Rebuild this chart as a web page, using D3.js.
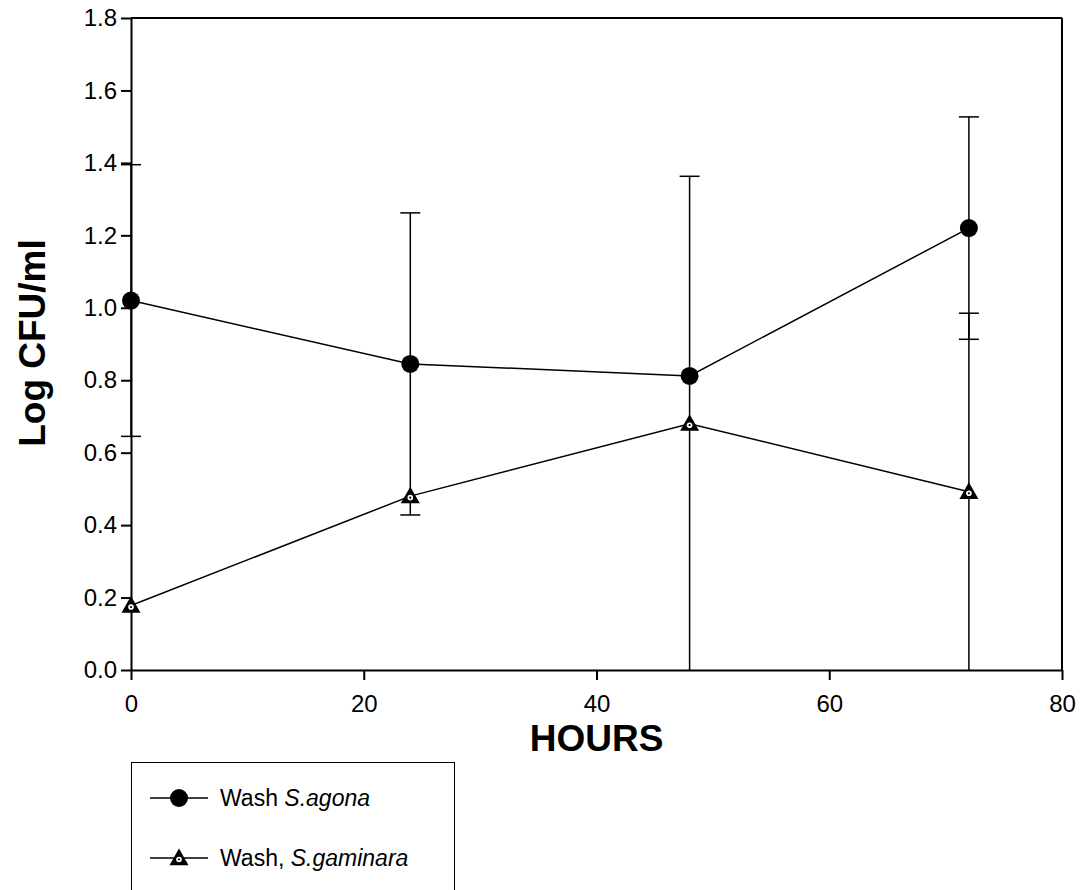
<!DOCTYPE html>
<html>
<head>
<meta charset="utf-8">
<script src="https://cdn.jsdelivr.net/npm/d3@7"></script>
<style>
html,body{margin:0;padding:0;background:#fff;}
svg{display:block;font-family:Arial,"Liberation Sans",sans-serif;}
</style>
</head>
<body>
<svg id="chart" width="1083" height="890"></svg>
<script>
const hours = [0, 24, 48, 72];
const agona = [1.02, 0.845, 0.812, 1.22];
const agonaErr = [0.375, 0.417, null, 0.307];
const gaminara = [0.178, 0.48, 0.68, 0.492];
const gaminaraErr = [null, null, 0.683, 0.493];
const xTicks = [0, 20, 40, 60, 80];
const yTicks = [0, 0.2, 0.4, 0.6, 0.8, 1.0, 1.2, 1.4, 1.6, 1.8];
const legendLabels = [["Wash ", "S.agona"], ["Wash, ", "S.gaminara"]];

const svg = d3.select("#chart");
const x = d3.scaleLinear().domain([0, 80]).range([131, 1062]);
const y = d3.scaleLinear().domain([0, 1.8]).range([670, 18]);

// frame top/right
svg.append("line").attr("x1", x(0)).attr("x2", x(80)).attr("y1", y(1.8)).attr("y2", y(1.8))
  .attr("stroke", "#000").attr("stroke-width", 2);
svg.append("line").attr("x1", x(80)).attr("x2", x(80)).attr("y1", y(1.8)).attr("y2", y(0))
  .attr("stroke", "#000").attr("stroke-width", 2);

const xAxis = svg.append("g").attr("transform", `translate(0,${y(0)})`)
  .call(d3.axisBottom(x).tickValues(xTicks).tickSize(10).tickPadding(15).tickSizeOuter(0).tickFormat(d3.format("d")));
const yAxis = svg.append("g").attr("transform", `translate(${x(0)},0)`)
  .call(d3.axisLeft(y).tickValues(yTicks).tickSize(10).tickPadding(4).tickSizeOuter(0).tickFormat(d3.format(".1f")));
[xAxis, yAxis].forEach(g => {
  g.select(".domain").attr("stroke", "#000").attr("stroke-width", 2);
  g.selectAll(".tick line").attr("stroke", "#000").attr("stroke-width", 2);
  g.selectAll(".tick text").attr("fill", "#000").style("font-size", "24px").style("font-family", "Arial, 'Liberation Sans', sans-serif");
});

// axis titles
svg.append("text").attr("x", x(40)).attr("y", 751).attr("text-anchor", "middle")
  .style("font-size", "37px").style("font-weight", "bold").text("HOURS");
svg.append("text").attr("transform", `translate(45,${343}) rotate(-90)`).attr("text-anchor", "middle")
  .style("font-size", "37px").style("font-weight", "bold").text("Log CFU/ml");

// error bars
function errBars(vals, errs) {
  const capW = 10;
  hours.forEach((h, i) => {
    const e = errs[i];
    if (e == null) return;
    const hi = vals[i] + e, lo = vals[i] - e;
    const loC = Math.max(lo, 0), hiC = Math.min(hi, 1.8);
    svg.append("line").attr("x1", x(h)).attr("x2", x(h)).attr("y1", y(hiC)).attr("y2", y(loC))
      .attr("stroke", "#000").attr("stroke-width", 1.5);
    if (hi <= 1.8) svg.append("line").attr("x1", x(h) - capW).attr("x2", x(h) + capW).attr("y1", y(hi)).attr("y2", y(hi))
      .attr("stroke", "#000").attr("stroke-width", 1.5);
    if (lo > 0.01) svg.append("line").attr("x1", x(h) - capW).attr("x2", x(h) + capW).attr("y1", y(lo)).attr("y2", y(lo))
      .attr("stroke", "#000").attr("stroke-width", 1.5);
  });
}
errBars(agona, agonaErr);
errBars(gaminara, gaminaraErr);

const line = d3.line().x((d, i) => x(hours[i])).y(d => y(d));
svg.append("path").datum(agona).attr("d", line).attr("fill", "none").attr("stroke", "#000").attr("stroke-width", 1.5);
svg.append("path").datum(gaminara).attr("d", line).attr("fill", "none").attr("stroke", "#000").attr("stroke-width", 1.5);

function circleMarker(g, cx, cy) {
  g.append("circle").attr("cx", cx).attr("cy", cy).attr("r", 9).attr("fill", "#000");
}
function triMarker(g, cx, cy) {
  const s = 9.5;
  g.append("path").attr("d", `M${cx},${cy - s}L${cx + s},${cy + s * 0.75}L${cx - s},${cy + s * 0.75}Z`).attr("fill", "#000");
  g.append("circle").attr("cx", cx).attr("cy", cy + 1.5).attr("r", 2.8).attr("fill", "#fff");
  g.append("circle").attr("cx", cx).attr("cy", cy + 1.5).attr("r", 1.1).attr("fill", "#000");
}
agona.forEach((v, i) => circleMarker(svg, x(hours[i]), y(v)));
gaminara.forEach((v, i) => triMarker(svg, x(hours[i]), y(v)));

// legend
const lg = svg.append("g");
lg.append("rect").attr("x", 131.5).attr("y", 762.5).attr("width", 323).attr("height", 160)
  .attr("fill", "#fff").attr("stroke", "#000").attr("stroke-width", 1);
const rowsY = [798, 858];
legendLabels.forEach((lab, i) => {
  const yy = rowsY[i];
  lg.append("line").attr("x1", 150).attr("x2", 208).attr("y1", yy).attr("y2", yy).attr("stroke", "#000").attr("stroke-width", 1.5);
  if (i === 0) circleMarker(lg, 179, yy); else triMarker(lg, 179, yy);
  const t = lg.append("text").attr("x", 220).attr("y", yy + 8).style("font-size", "23px");
  t.append("tspan").text(lab[0]);
  t.append("tspan").style("font-style", "italic").text(lab[1]);
});
</script>
</body>
</html>
